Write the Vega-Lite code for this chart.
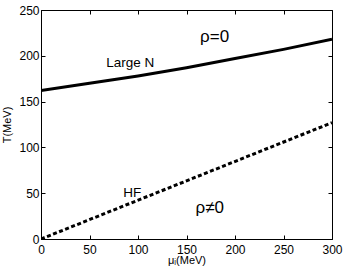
{
  "$schema": "https://vega.github.io/schema/vega-lite/v6.json",
  "width": 291,
  "height": 229,
  "autosize": "none",
  "padding": {"left": 41, "top": 10, "right": 14, "bottom": 32},
  "background": "white",
  "config": {
    "view": {"stroke": "black", "strokeWidth": 1},
    "font": "Liberation Sans",
    "axis": {
      "grid": false,
      "domainColor": "black",
      "tickColor": "black",
      "labelColor": "black",
      "titleColor": "black",
      "labelFont": "Liberation Sans",
      "titleFont": "Liberation Sans",
      "labelFontSize": 12,
      "titleFontSize": 11,
      "titleFontWeight": "normal",
      "tickSize": -4
    }
  },
  "datasets": {
    "curves": [
      {"mu": 0, "T": 162, "curve": "Large N"},
      {"mu": 50, "T": 170, "curve": "Large N"},
      {"mu": 100, "T": 178, "curve": "Large N"},
      {"mu": 150, "T": 187, "curve": "Large N"},
      {"mu": 200, "T": 197, "curve": "Large N"},
      {"mu": 250, "T": 207, "curve": "Large N"},
      {"mu": 300, "T": 218, "curve": "Large N"}
    ],
    "hf": [
      {"mu": 0, "T": 0, "curve": "HF"},
      {"mu": 300, "T": 127, "curve": "HF"}
    ],
    "labels": [
      {"mu": 179, "T": 221, "text": "ρ=0", "size": 17},
      {"mu": 92, "T": 192, "text": "Large N", "size": 13.5},
      {"mu": 94, "T": 50, "text": "HF", "size": 13.5},
      {"mu": 174, "T": 34, "text": "ρ≠0", "size": 17}
    ]
  },
  "layer": [
    {
      "data": {"name": "curves"},
      "mark": {"type": "line", "color": "black", "strokeWidth": 3, "clip": true},
      "encoding": {
        "x": {"field": "mu", "type": "quantitative", "scale": {"domain": [0, 300], "nice": false},
              "axis": {"values": [0, 50, 100, 150, 200, 250, 300], "title": "μᵢ(MeV)", "titlePadding": -1, "labelPadding": 9, "labelFlush": false}},
        "y": {"field": "T", "type": "quantitative", "scale": {"domain": [0, 250], "nice": false, "zero": true},
              "axis": {"values": [0, 50, 100, 150, 200, 250], "title": "T(MeV)", "titlePadding": 6, "labelPadding": 6, "labelFlush": false}}
      }
    },
    {
      "data": {"name": "hf"},
      "mark": {"type": "line", "color": "black", "strokeWidth": 3, "strokeDash": [4, 2.5], "clip": true},
      "encoding": {
        "x": {"field": "mu", "type": "quantitative",
              "axis": {"orient": "top", "values": [0, 50, 100, 150, 200, 250, 300], "labels": false, "title": null, "domain": false}},
        "y": {"field": "T", "type": "quantitative",
              "axis": {"orient": "right", "values": [0, 50, 100, 150, 200, 250], "labels": false, "title": null, "domain": false}}
      }
    },
    {
      "data": {"name": "labels"},
      "mark": {"type": "text", "color": "black", "font": "Liberation Sans"},
      "encoding": {
        "x": {"field": "mu", "type": "quantitative", "axis": null},
        "y": {"field": "T", "type": "quantitative", "axis": null},
        "text": {"field": "text"},
        "size": {"field": "size", "type": "quantitative", "scale": null}
      }
    }
  ],
  "resolve": {"axis": {"x": "independent", "y": "independent"}}
}
